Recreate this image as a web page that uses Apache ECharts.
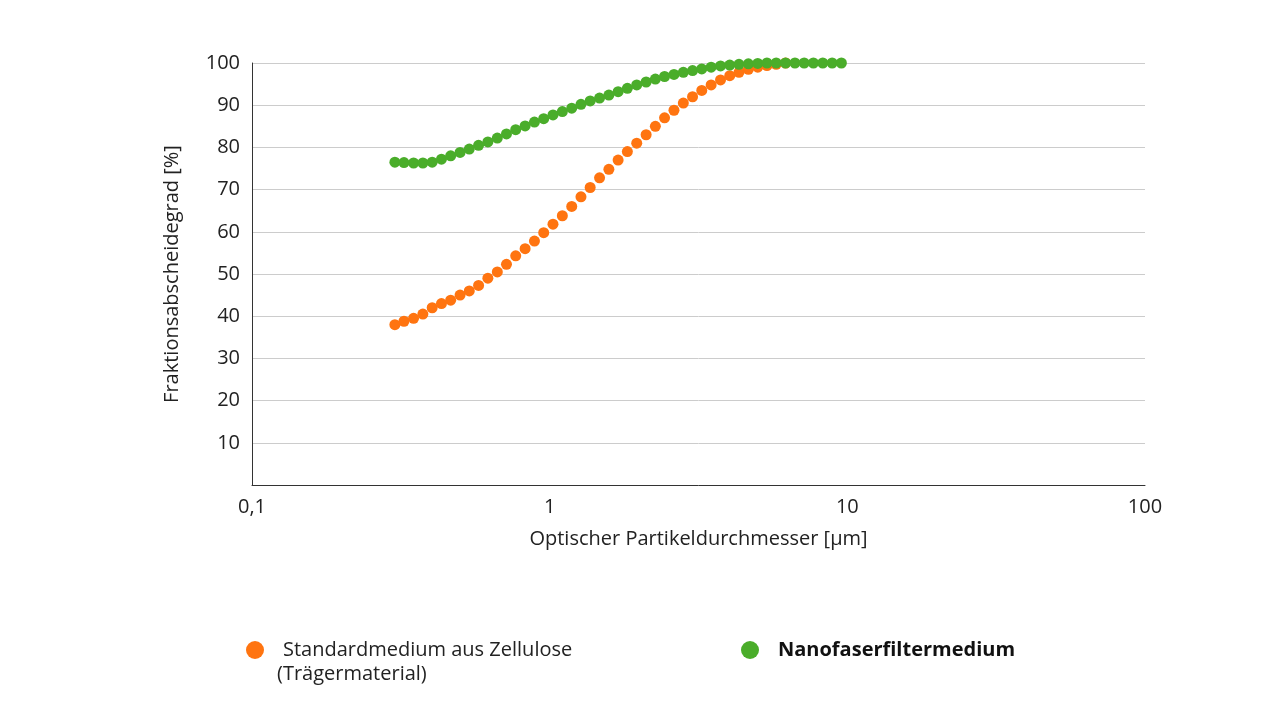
<!DOCTYPE html><html><head><meta charset="utf-8"><script src="https://cdn.jsdelivr.net/npm/echarts@6/dist/echarts.min.js"></script></head><body style="margin:0"><div id="c" style="width:1280px;height:713px"></div><script>
const xs=[0.302,0.324,0.349,0.375,0.403,0.433,0.465,0.500,0.537,0.577,0.620,0.667,0.716,0.769,0.827,0.889,0.955,1.026,1.103,1.186,1.274,1.368,1.471,1.581,1.698,1.824,1.961,2.109,2.265,2.432,2.616,2.812,3.020,3.243,3.487,3.750,4.027,4.325,4.651,5.000,5.370,5.768,6.202,6.668,7.161,7.691,8.270,8.892,9.550,10.26,11.03,11.86,12.74,13.68,14.71,15.81,16.98];
const orangeY=[38,38.8,39.5,40.5,42,43,43.8,45,46,47.3,49,50.5,52.3,54.3,56,57.8,59.8,61.8,63.8,66,68.3,70.5,72.8,74.8,77,79,81,83,85,87,88.8,90.5,92,93.5,94.8,96,97,97.8,98.5,99,99.4,99.7,100];
const greenY=[76.5,76.4,76.3,76.3,76.5,77.2,78,78.8,79.6,80.5,81.3,82.2,83.2,84.2,85.1,86,86.8,87.7,88.5,89.3,90.2,91,91.7,92.4,93.2,94,94.8,95.5,96.2,96.8,97.3,97.8,98.2,98.6,99,99.3,99.5,99.7,99.8,99.9,100,100,100,100,100,100,100,100,100,100.1,100.1,100.1,100.1,100.1,100.1,100.1,100.1];
const names=['Standardmedium aus Zellulose','Nanofaserfiltermedium'];
const subName='(Trägermaterial)';
const F='Open Sans';
const pair=ys=>ys.slice(0,xs.length).map((y,i)=>[xs[i],y]);
echarts.init(document.getElementById('c')).setOption({
textStyle:{fontFamily:F},
grid:{left:252,right:135,top:63,bottom:228},
xAxis:{type:'log',min:0.1,max:100,logBase:10,name:'Optischer Partikeldurchmesser [µm]',nameLocation:'middle',nameGap:44,nameTextStyle:{fontSize:20,color:'#222'},
axisLine:{lineStyle:{color:'#333'}},axisTick:{show:false},splitLine:{show:false},
axisLabel:{fontSize:20,color:'#222',margin:12,formatter:v=>String(v).replace('.',',')}},
yAxis:{type:'value',min:0,max:100,interval:10,name:'Fraktionsabscheidegrad [%]',nameLocation:'middle',nameGap:70,nameTextStyle:{fontSize:20,color:'#222'},
axisLine:{show:true,lineStyle:{color:'#333'}},axisTick:{show:false},splitLine:{lineStyle:{color:'#ccc'}},
axisLabel:{fontSize:20,color:'#222',margin:12,formatter:v=>v===0?'':v}},
legend:[{data:[names[0]],left:241,top:635,icon:'circle',itemWidth:18,itemHeight:18,textStyle:{fontSize:20,color:'#222',padding:[0,0,0,14]}},
{data:[names[1]],left:736,top:635,icon:'circle',itemWidth:18,itemHeight:18,textStyle:{fontSize:20,color:'#111',fontWeight:'bold',padding:[0,0,0,14]}}],
graphic:[{type:'text',left:277,top:664,style:{text:subName,fontSize:20,fontFamily:F,fill:'#222'}}],
series:[{name:names[0],type:'scatter',data:pair(orangeY),symbolSize:11,itemStyle:{color:'#ff7410',opacity:1},z:2},
{name:names[1],type:'scatter',data:pair(greenY.concat([100.1,100.1,100.1,100.1,100.1,100.1,100.1,100.1])),symbolSize:11,itemStyle:{color:'#4aad2a',opacity:1},z:3}]
});
</script></body></html>
